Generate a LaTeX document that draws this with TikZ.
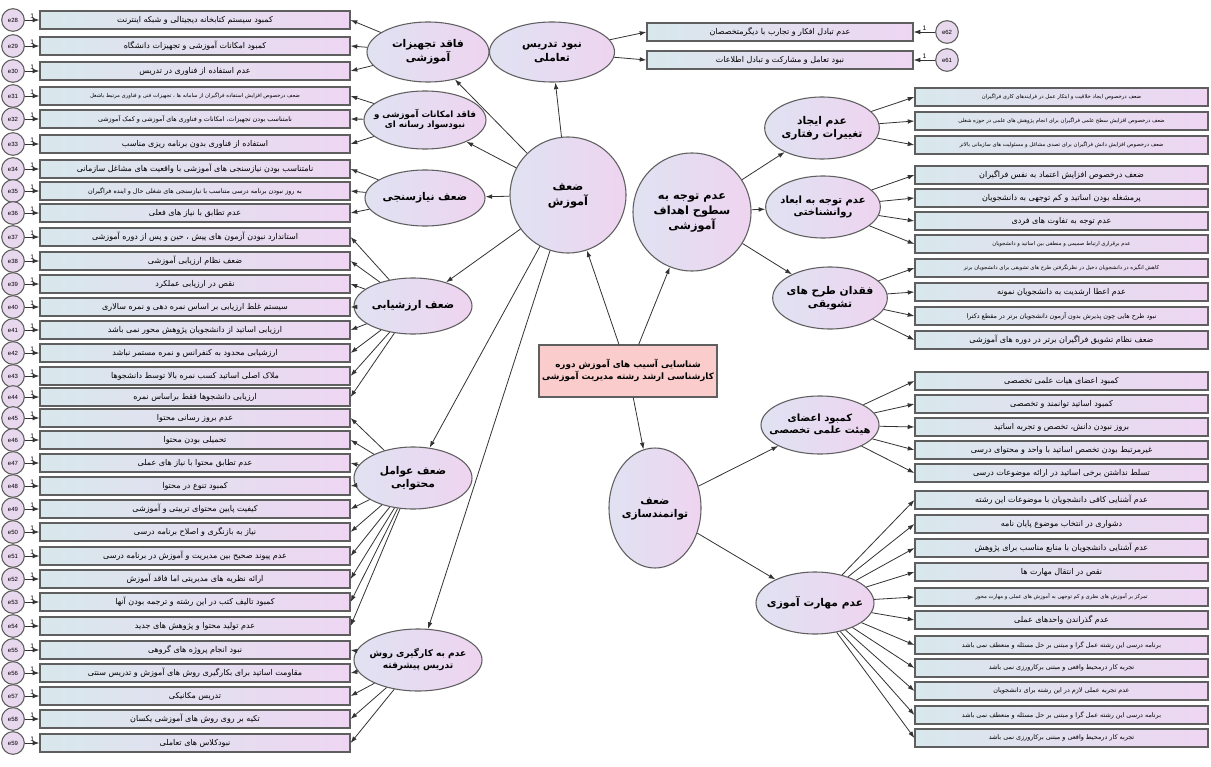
\documentclass[tikz,border=0pt]{standalone}
\usepackage{fontspec}
\setmainfont{Liberation Sans}
\newfontfamily\farsi[Script=Arabic]{DejaVu Sans}
\TeXXeTstate=1
\usetikzlibrary{shapes.geometric,arrows.meta}
\definecolor{boxl}{RGB}{216,232,237}
\definecolor{boxr}{RGB}{238,214,242}
\definecolor{ell}{RGB}{224,226,242}
\definecolor{elr}{RGB}{238,212,240}
\definecolor{errf}{RGB}{232,216,238}
\definecolor{rootf}{RGB}{250,204,204}
\definecolor{edge}{RGB}{95,95,95}
\newcommand{\fa}[1]{{\farsi\beginR #1\endR}}
\newcommand{\stack}[1]{\makebox[0pt]{\begin{tabular}{@{}c@{}}#1\end{tabular}}}
\tikzset{
	item/.style={rectangle,draw=edge,line width=0.9pt,left color=boxl,right color=boxr,minimum width=232.5pt,minimum height=13.5pt,inner sep=0pt,font=\fontsize{6}{7}\selectfont},
	ritem/.style={item,minimum width=219.75pt},
	titem/.style={item,minimum width=199.5pt},
	smalltxt/.style={font=\fontsize{4.8}{6}\selectfont},
	tinytxt/.style={font=\fontsize{4}{5}\selectfont},
	err/.style={circle,draw=edge,line width=0.8pt,fill=errf,minimum size=17pt,inner sep=0pt,font=\fontsize{4.5}{5}\selectfont},
	fac/.style={ellipse,draw=edge,line width=0.8pt,left color=ell,right color=elr,inner sep=0pt,font=\fontsize{8}{10}\selectfont\bfseries},
	gfac/.style={circle,draw=edge,line width=0.8pt,left color=ell,right color=elr,inner sep=0pt,font=\fontsize{8.5}{11}\selectfont\bfseries},
	rootbox/.style={rectangle,draw=edge,line width=0.9pt,fill=rootf,minimum width=133.5pt,minimum height=39pt,inner sep=0pt,font=\fontsize{6.6}{9}\selectfont\bfseries},
	link/.style={-{Latex[length=5pt,width=3.5pt]},draw=black!80,line width=0.6pt},
	one/.style={above,inner sep=1pt,font=\fontsize{5}{6}\selectfont}
}
\begin{document}
\begin{tikzpicture}[x=0.75pt,y=-0.75pt]
	\useasboundingbox (0,0) rectangle (1211,767);
	\fill[white] (0,0) rectangle (1211,767);

	% root and second order
	\node [rootbox] (asib) at (628,371) {\stack{\fa{شناسایی آسیب های آموزش دوره}\\\fa{کارشناسی ارشد رشته مدیریت آموزشی}}};
	\node [gfac,minimum size=87pt] (amuzesh) at (568,195) {\stack{\fa{ضعف}\\\fa{آموزش}}};
	\node [gfac,minimum size=88.5pt] (ahdaf) at (692,212) {\stack{\fa{عدم توجه به}\\\fa{سطوح اهداف}\\\fa{آموزشی}}};
	\node [fac,minimum width=69pt,minimum height=90pt] (tavan) at (655,508) {\stack{\fa{ضعف}\\\fa{توانمندسازی}}};

	% first order, left
	\node [fac,minimum width=91.5pt,minimum height=45pt] (tajhizat) at (428,52) {\stack{\fa{فاقد تجهیزات}\\\fa{آموزشی}}};
	\node [fac,minimum width=91.5pt,minimum height=43.5pt,font=\fontsize{6.5}{8}\selectfont\bfseries] (emkanat) at (425,120) {\stack{\fa{فاقد امکانات آموزشی و}\\\fa{نبودسواد رسانه ای}}};
	\node [fac,minimum width=90pt,minimum height=42pt] (niaz) at (425,198) {\stack{\fa{ضعف نیازسنجی}}};
	\node [fac,minimum width=88.5pt,minimum height=42pt] (arzesh) at (413,306) {\stack{\fa{ضعف ارزشیابی}}};
	\node [fac,minimum width=88.5pt,minimum height=46.5pt] (mohtava) at (413,478) {\stack{\fa{ضعف عوامل}\\\fa{محتوایی}}};
	\node [fac,minimum width=96pt,minimum height=46.5pt,font=\fontsize{6.8}{9}\selectfont\bfseries] (ravesh) at (418,660) {\stack{\fa{عدم به کارگیری روش}\\\fa{تدریس پیشرفته}}};
	\node [fac,minimum width=93.75pt,minimum height=45pt] (taamol) at (552,52) {\stack{\fa{نبود تدریس}\\\fa{تعاملی}}};

	% first order, right
	\node [fac,minimum width=86pt,minimum height=46.5pt] (raftar) at (822,128) {\stack{\fa{عدم ایجاد}\\\fa{تغییرات رفتاری}}};
	\node [fac,minimum width=86pt,minimum height=46.5pt,font=\fontsize{7.5}{9.5}\selectfont\bfseries] (ravan) at (823,207) {\stack{\fa{عدم توجه به ابعاد}\\\fa{روانشناختی}}};
	\node [fac,minimum width=86pt,minimum height=46.5pt] (tashvigh) at (830,298) {\stack{\fa{فقدان طرح های}\\\fa{تشویقی}}};
	\node [fac,minimum width=88.5pt,minimum height=43.5pt,font=\fontsize{7.5}{9.5}\selectfont\bfseries] (azaa) at (820,425) {\stack{\fa{کمبود اعضای}\\\fa{هیئت علمی تخصصی}}};
	\node [fac,minimum width=88.5pt,minimum height=46.5pt] (maharat) at (815,603) {\stack{\fa{عدم مهارت آموزی}}};

	% left items
	\node [item] (b28) at (195,20) {\fa{کمبود سیستم کتابخانه دیجیتالی و شبکه اینترنت}};
	\node [item] (b29) at (195,46) {\fa{کمبود امکانات آموزشی و تجهیزات دانشگاه}};
	\node [item] (b30) at (195,71) {\fa{عدم استفاده از فناوری در تدریس}};
	\node [item,tinytxt] (b31) at (195,96) {\fa{ضعف درخصوص افزایش استفاده فراگیران از سامانه ها ، تجهیزات فنی و فناوری مرتبط باشغل}};
	\node [item,smalltxt] (b32) at (195,119) {\fa{نامتناسب بودن تجهیزات، امکانات و فناوری های آموزشی و کمک آموزشی}};
	\node [item] (b33) at (195,144) {\fa{استفاده از فناوری بدون برنامه ریزی مناسب}};
	\node [item] (b34) at (195,169) {\fa{نامتناسب بودن نیازسنجی های آموزشی با واقعیت های مشاغل سازمانی}};
	\node [item,smalltxt] (b35) at (195,191) {\fa{به روز نبودن برنامه درسی متناسب با نیازسنجی های شغلی حال و اینده فراگیران}};
	\node [item] (b36) at (195,213) {\fa{عدم تطابق با نیاز های فعلی}};
	\node [item] (b37) at (195,237) {\fa{استاندارد نبودن آزمون های پیش ، حین و پس از دوره آموزشی}};
	\node [item] (b38) at (195,261) {\fa{ضعف نظام ارزیابی آموزشی}};
	\node [item] (b39) at (195,284) {\fa{نقص در ارزیابی عملکرد}};
	\node [item] (b40) at (195,307) {\fa{سیستم غلط ارزیابی بر اساس نمره دهی و نمره سالاری}};
	\node [item] (b41) at (195,330) {\fa{ارزیابی اساتید از دانشجویان پژوهش محور نمی باشد}};
	\node [item] (b42) at (195,353) {\fa{ارزشیابی محدود به کنفرانس و نمره مستمر نباشد}};
	\node [item] (b43) at (195,376) {\fa{ملاک اصلی اساتید کسب نمره بالا توسط دانشجوها}};
	\node [item] (b44) at (195,397) {\fa{ارزیابی دانشجوها فقط براساس نمره}};
	\node [item] (b45) at (195,418) {\fa{عدم بروز رسانی محتوا}};
	\node [item] (b46) at (195,440) {\fa{تحمیلی بودن محتوا}};
	\node [item] (b47) at (195,463) {\fa{عدم تطابق محتوا با نیاز های عملی}};
	\node [item] (b48) at (195,486) {\fa{کمبود تنوع در محتوا}};
	\node [item] (b49) at (195,509) {\fa{کیفیت پایین محتوای تربیتی و آموزشی}};
	\node [item] (b50) at (195,532) {\fa{نیاز به بازنگری و اصلاح برنامه درسی}};
	\node [item] (b51) at (195,556) {\fa{عدم پیوند صحیح بین مدیریت و آموزش در برنامه درسی}};
	\node [item] (b52) at (195,579) {\fa{ارائه نظریه های مدیریتی اما فاقد آموزش}};
	\node [item] (b53) at (195,602) {\fa{کمبود تالیف کتب در این رشته و ترجمه بودن آنها}};
	\node [item] (b54) at (195,626) {\fa{عدم تولید محتوا و پژوهش های جدید}};
	\node [item] (b55) at (195,650) {\fa{نبود انجام پروژه های گروهی}};
	\node [item] (b56) at (195,673) {\fa{مقاومت اساتید برای بکارگیری روش های آموزش و تدریس سنتی}};
	\node [item] (b57) at (195,696) {\fa{تدریس مکانیکی}};
	\node [item] (b58) at (195,719) {\fa{تکیه بر روی روش های آموزشی یکسان}};
	\node [item] (b59) at (195,743) {\fa{نبودکلاس های تعاملی}};

	% error terms, left
	\node [err] (e28) at (13,20) {e28};
	\node [err] (e29) at (13,46) {e29};
	\node [err] (e30) at (13,71) {e30};
	\node [err] (e31) at (13,96) {e31};
	\node [err] (e32) at (13,119) {e32};
	\node [err] (e33) at (13,144) {e33};
	\node [err] (e34) at (13,169) {e34};
	\node [err] (e35) at (13,191) {e35};
	\node [err] (e36) at (13,213) {e36};
	\node [err] (e37) at (13,237) {e37};
	\node [err] (e38) at (13,261) {e38};
	\node [err] (e39) at (13,284) {e39};
	\node [err] (e40) at (13,307) {e40};
	\node [err] (e41) at (13,330) {e41};
	\node [err] (e42) at (13,353) {e42};
	\node [err] (e43) at (13,376) {e43};
	\node [err] (e44) at (13,397) {e44};
	\node [err] (e45) at (13,418) {e45};
	\node [err] (e46) at (13,440) {e46};
	\node [err] (e47) at (13,463) {e47};
	\node [err] (e48) at (13,486) {e48};
	\node [err] (e49) at (13,509) {e49};
	\node [err] (e50) at (13,532) {e50};
	\node [err] (e51) at (13,556) {e51};
	\node [err] (e52) at (13,579) {e52};
	\node [err] (e53) at (13,602) {e53};
	\node [err] (e54) at (13,626) {e54};
	\node [err] (e55) at (13,650) {e55};
	\node [err] (e56) at (13,673) {e56};
	\node [err] (e57) at (13,696) {e57};
	\node [err] (e58) at (13,719) {e58};
	\node [err] (e59) at (13,743) {e59};

	% top right items
	\node [titem] (t1) at (780,32) {\fa{عدم تبادل افکار و تجارب با دیگرمتخصصان}};
	\node [titem] (t2) at (780,60) {\fa{نبود تعامل و مشارکت و تبادل اطلاعات}};
	\node [err] (e62) at (947,32) {e62};
	\node [err] (e61) at (947,60) {e61};

	% right items
	\node [ritem,tinytxt] (r1) at (1061.5,97) {\fa{ضعف درخصوص ایجاد خلاقیت و ابتکار عمل در فرایندهای کاری فراگیران}};
	\node [ritem,tinytxt] (r2) at (1061.5,121) {\fa{ضعف درخصوص افزایش سطح علمی فراگیران برای انجام پژوهش های علمی در حوزه شغلی}};
	\node [ritem,tinytxt] (r3) at (1061.5,145) {\fa{ضعف درخصوص افزایش دانش فراگیران برای تصدی مشاغل و مسئولیت های سازمانی بالاتر}};
	\node [ritem] (r4) at (1061.5,175) {\fa{ضعف درخصوص افزایش اعتماد به نفس فراگیران}};
	\node [ritem] (r5) at (1061.5,198) {\fa{پرمشغله بودن اساتید و کم توجهی به دانشجویان}};
	\node [ritem] (r6) at (1061.5,221) {\fa{عدم توجه به تفاوت های فردی}};
	\node [ritem,tinytxt] (r7) at (1061.5,244) {\fa{عدم برقراری ارتباط صمیمی و منطقی بین اساتید و دانشجویان}};
	\node [ritem,tinytxt] (r8) at (1061.5,268) {\fa{کاهش انگیزه در دانشجویان دخیل در نظرنگرفتن طرح های تشویقی برای دانشجویان برتر}};
	\node [ritem] (r9) at (1061.5,292) {\fa{عدم اعطا ارشدیت به دانشجویان نمونه}};
	\node [ritem,smalltxt] (r10) at (1061.5,316) {\fa{نبود طرح هایی چون پذیرش بدون آزمون دانشجویان برتر در مقطع دکترا}};
	\node [ritem] (r11) at (1061.5,340) {\fa{ضعف نظام تشویق فراگیران برتر در دوره های آموزشی}};
	\node [ritem] (r12) at (1061.5,381) {\fa{کمبود اعضای هیات علمی تخصصی}};
	\node [ritem] (r13) at (1061.5,404) {\fa{کمبود اساتید توانمند و تخصصی}};
	\node [ritem] (r14) at (1061.5,427) {\fa{بروز نبودن دانش، تخصص و تجربه اساتید}};
	\node [ritem] (r15) at (1061.5,450) {\fa{غیرمرتبط بودن تخصص اساتید با واحد و محتوای درسی}};
	\node [ritem] (r16) at (1061.5,473) {\fa{تسلط نداشتن برخی اساتید در ارائه موضوعات درسی}};
	\node [ritem] (r17) at (1061.5,500) {\fa{عدم آشنایی کافی دانشجویان با موضوعات این رشته}};
	\node [ritem] (r18) at (1061.5,524) {\fa{دشواری در انتخاب موضوع پایان نامه}};
	\node [ritem] (r19) at (1061.5,548) {\fa{عدم آشنایی دانشجویان با منابع مناسب برای پژوهش}};
	\node [ritem] (r20) at (1061.5,572) {\fa{نقص در انتقال مهارت ها}};
	\node [ritem,tinytxt] (r21) at (1061.5,597) {\fa{تمرکز بر آموزش های نظری و کم توجهی به آموزش های عملی و مهارت محور}};
	\node [ritem] (r22) at (1061.5,620) {\fa{عدم گذراندن واحدهای عملی}};
	\node [ritem,smalltxt] (r23) at (1061.5,645) {\fa{برنامه درسی این رشته عمل گرا و مبتنی بر حل مسئله و منعطف نمی باشد}};
	\node [ritem,smalltxt] (r24) at (1061.5,668) {\fa{تجربه کار درمحیط واقعی و مبتنی برکارورزی نمی باشد}};
	\node [ritem,smalltxt] (r25) at (1061.5,691) {\fa{عدم تجربه عملی لازم در این رشته برای دانشجویان}};
	\node [ritem,smalltxt] (r26) at (1061.5,715) {\fa{برنامه درسی این رشته عمل گرا و مبتنی بر حل مسئله و منعطف نمی باشد}};
	\node [ritem,smalltxt] (r27) at (1061.5,738) {\fa{تجربه کار درمحیط واقعی و مبتنی برکارورزی نمی باشد}};

	% structure
	\draw [link] (asib) -- (amuzesh);
	\draw [link] (asib) -- (ahdaf);
	\draw [link] (asib) -- (tavan);

	\draw [link] (amuzesh) -- (tajhizat);
	\draw [link] (amuzesh) -- (emkanat);
	\draw [link] (amuzesh) -- (niaz);
	\draw [link] (amuzesh) -- (taamol);
	\draw [link] (amuzesh) -- (arzesh);
	\draw [link] (amuzesh) -- (mohtava);
	\draw [link] (amuzesh) -- (ravesh);

	\draw [link] (ahdaf) -- (raftar);
	\draw [link] (ahdaf) -- (ravan);
	\draw [link] (ahdaf) -- (tashvigh);

	\draw [link] (tavan) -- (azaa);
	\draw [link] (tavan) -- (maharat);

	% factor to item, left
	\draw [link] (tajhizat) -- (b28.east);
	\draw [link] (tajhizat) -- (b29.east);
	\draw [link] (tajhizat) -- (b30.east);
	\draw [link] (emkanat) -- (b31.east);
	\draw [link] (emkanat) -- (b32.east);
	\draw [link] (emkanat) -- (b33.east);
	\draw [link] (niaz) -- (b34.east);
	\draw [link] (niaz) -- (b35.east);
	\draw [link] (niaz) -- (b36.east);
	\draw [link] (arzesh) -- (b37.east);
	\draw [link] (arzesh) -- (b38.east);
	\draw [link] (arzesh) -- (b39.east);
	\draw [link] (arzesh) -- (b40.east);
	\draw [link] (arzesh) -- (b41.east);
	\draw [link] (arzesh) -- (b42.east);
	\draw [link] (arzesh) -- (b43.east);
	\draw [link] (arzesh) -- (b44.east);
	\draw [link] (mohtava) -- (b45.east);
	\draw [link] (mohtava) -- (b46.east);
	\draw [link] (mohtava) -- (b47.east);
	\draw [link] (mohtava) -- (b48.east);
	\draw [link] (mohtava) -- (b49.east);
	\draw [link] (mohtava) -- (b50.east);
	\draw [link] (mohtava) -- (b51.east);
	\draw [link] (mohtava) -- (b52.east);
	\draw [link] (mohtava) -- (b53.east);
	\draw [link] (mohtava) -- (b54.east);
	\draw [link] (ravesh) -- (b55.east);
	\draw [link] (ravesh) -- (b56.east);
	\draw [link] (ravesh) -- (b57.east);
	\draw [link] (ravesh) -- (b58.east);
	\draw [link] (ravesh) -- (b59.east);

	% error to item, left
	\draw [link] (e28) -- node [one] {1} (b28);
	\draw [link] (e29) -- node [one] {1} (b29);
	\draw [link] (e30) -- node [one] {1} (b30);
	\draw [link] (e31) -- node [one] {1} (b31);
	\draw [link] (e32) -- node [one] {1} (b32);
	\draw [link] (e33) -- node [one] {1} (b33);
	\draw [link] (e34) -- node [one] {1} (b34);
	\draw [link] (e35) -- node [one] {1} (b35);
	\draw [link] (e36) -- node [one] {1} (b36);
	\draw [link] (e37) -- node [one] {1} (b37);
	\draw [link] (e38) -- node [one] {1} (b38);
	\draw [link] (e39) -- node [one] {1} (b39);
	\draw [link] (e40) -- node [one] {1} (b40);
	\draw [link] (e41) -- node [one] {1} (b41);
	\draw [link] (e42) -- node [one] {1} (b42);
	\draw [link] (e43) -- node [one] {1} (b43);
	\draw [link] (e44) -- node [one] {1} (b44);
	\draw [link] (e45) -- node [one] {1} (b45);
	\draw [link] (e46) -- node [one] {1} (b46);
	\draw [link] (e47) -- node [one] {1} (b47);
	\draw [link] (e48) -- node [one] {1} (b48);
	\draw [link] (e49) -- node [one] {1} (b49);
	\draw [link] (e50) -- node [one] {1} (b50);
	\draw [link] (e51) -- node [one] {1} (b51);
	\draw [link] (e52) -- node [one] {1} (b52);
	\draw [link] (e53) -- node [one] {1} (b53);
	\draw [link] (e54) -- node [one] {1} (b54);
	\draw [link] (e55) -- node [one] {1} (b55);
	\draw [link] (e56) -- node [one] {1} (b56);
	\draw [link] (e57) -- node [one] {1} (b57);
	\draw [link] (e58) -- node [one] {1} (b58);
	\draw [link] (e59) -- node [one] {1} (b59);

	% top right
	\draw [link] (taamol) -- (t1.west);
	\draw [link] (taamol) -- (t2.west);
	\draw [link] (e62) -- node [one] {1} (t1);
	\draw [link] (e61) -- node [one] {1} (t2);

	% factor to item, right
	\draw [link] (raftar) -- (r1.west);
	\draw [link] (raftar) -- (r2.west);
	\draw [link] (raftar) -- (r3.west);
	\draw [link] (ravan) -- (r4.west);
	\draw [link] (ravan) -- (r5.west);
	\draw [link] (ravan) -- (r6.west);
	\draw [link] (ravan) -- (r7.west);
	\draw [link] (tashvigh) -- (r8.west);
	\draw [link] (tashvigh) -- (r9.west);
	\draw [link] (tashvigh) -- (r10.west);
	\draw [link] (tashvigh) -- (r11.west);
	\draw [link] (azaa) -- (r12.west);
	\draw [link] (azaa) -- (r13.west);
	\draw [link] (azaa) -- (r14.west);
	\draw [link] (azaa) -- (r15.west);
	\draw [link] (azaa) -- (r16.west);
	\draw [link] (maharat) -- (r17.west);
	\draw [link] (maharat) -- (r18.west);
	\draw [link] (maharat) -- (r19.west);
	\draw [link] (maharat) -- (r20.west);
	\draw [link] (maharat) -- (r21.west);
	\draw [link] (maharat) -- (r22.west);
	\draw [link] (maharat) -- (r23.west);
	\draw [link] (maharat) -- (r24.west);
	\draw [link] (maharat) -- (r25.west);
	\draw [link] (maharat) -- (r26.west);
	\draw [link] (maharat) -- (r27.west);
\end{tikzpicture}
\end{document}
